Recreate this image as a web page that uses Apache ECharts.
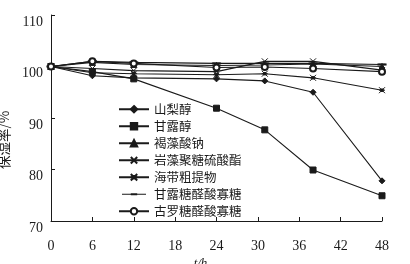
<!DOCTYPE html>
<html>
<head>
<meta charset="utf-8">
<script src="https://cdn.jsdelivr.net/npm/echarts@6/dist/echarts.min.js"></script>
<style>html,body{margin:0;padding:0;background:#fff}#c{width:410px;height:264px}</style>
</head>
<body>
<div id="c"></div>
<script>
var times = [0, 6, 12, 24, 31, 38, 48];
var seriesNames = ['山梨醇', '甘露醇', '褐藻酸钠', '岩藻聚糖硫酸酯', '海带粗提物', '甘露糖醛酸寡糖', '古罗糖醛酸寡糖'];
var sorbitol = [100, 98.2, 97.8, 97.6, 97.2, 95.0, 77.8];
var mannitol = [100, 99.0, 97.6, 91.9, 87.7, 79.9, 74.9];
var sodiumAlginate = [100, 100.8, 100.4, 100.2, 100.3, 100.5, 100.0];
var fucoidan = [100, 99.6, 99.2, 99.0, 101.0, 101.0, 99.3];
var kelpExtract = [100, 98.8, 98.6, 98.4, 98.6, 97.8, 95.4];
var mannuronicOligo = [100, 101.0, 100.8, 100.6, 100.6, 100.6, 100.4];
var guluronicOligo = [100, 101.0, 100.6, 99.8, 99.9, 99.6, 99.0];
var yTicks = [70, 80, 90, 100, 110];
var xTicks = [0, 6, 12, 18, 24, 30, 36, 42, 48];

var values = [sorbitol, mannitol, sodiumAlginate, fucoidan, kelpExtract, mannuronicOligo, guluronicOligo];
var symbols = ['diamond', 'rect', 'triangle',
  'path://M0,0L10,10M10,0L0,10',
  'path://M0,0L10,10M10,0L0,10M0,5L10,5M3,3L7,3L7,7L3,7Z',
  'rect', 'emptyCircle'];
var sizes = [6, 6, 6, 6, 6, [7, 1.5], 6];

function pair(arr) { return times.map(function (t, i) { return [t, arr[i]]; }); }

var series = values.map(function (v, i) {
  return {
    name: seriesNames[i],
    type: 'line',
    data: pair(v),
    symbol: symbols[i],
    symbolSize: sizes[i],
    lineStyle: { color: '#1a1a1a', width: 1.1 },
    itemStyle: { color: '#1a1a1a', borderColor: '#1a1a1a', borderWidth: 1 },
    emphasis: { disabled: true },
    animation: false
  };
});

var legendData = seriesNames.map(function (n, i) {
  if (i === 5) {
    return { name: n,
      icon: 'path://M15,0L15.01,0L15.01,0.01Z M0,4.4L30,4.4L30,5.6L0,5.6Z M11,3.9L19,3.9L19,6.1L11,6.1Z M15,10L15.01,10L15.01,9.99Z',
      itemStyle: { color: '#1a1a1a', borderWidth: 0 } };
  }
  return { name: n };
});

var chart = echarts.init(document.getElementById('c'));
chart.setOption({
  animation: false,
  backgroundColor: '#fff',
  grid: { left: 51, right: 28, top: 15, bottom: 43, containLabel: false, outerBoundsMode: 'none' },
  legend: {
    orient: 'vertical',
    left: 113,
    top: 98,
    itemWidth: 30,
    itemHeight: 8,
    itemGap: 4.5,
    data: legendData,
    textStyle: { fontFamily: 'Noto Sans CJK SC', fontSize: 12.5, color: '#1a1a1a' },
    selectedMode: false
  },
  xAxis: {
    type: 'value',
    min: 0, max: 48, interval: 6,
    name: 't/h',
    nameLocation: 'middle',
    nameGap: 36,
    nameMoveOverlap: false,
    nameTextStyle: { fontFamily: 'Liberation Serif', fontSize: 13, color: '#1a1a1a', fontStyle: 'italic', padding: [0, 32, 0, 0] },
    axisLine: { lineStyle: { color: '#1a1a1a', width: 1 } },
    axisTick: { inside: true, length: 4, lineStyle: { color: '#1a1a1a' } },
    axisLabel: { fontFamily: 'Liberation Serif', fontSize: 14, color: '#1a1a1a', margin: 18,
      formatter: function (v) { return xTicks.indexOf(v) >= 0 ? String(v) : ''; } },
    splitLine: { show: false }
  },
  yAxis: {
    type: 'value',
    min: 70, max: 110, interval: 10,
    name: '保湿率/%',
    nameLocation: 'middle',
    nameGap: 40,
    nameRotate: 90,
    nameTextStyle: { fontFamily: 'Noto Sans CJK SC', fontSize: 13.5, color: '#1a1a1a', padding: [0, 44, 0, 0] },
    axisLine: { show: true, lineStyle: { color: '#1a1a1a', width: 1 } },
    axisTick: { show: true, inside: true, length: 4, lineStyle: { color: '#1a1a1a' } },
    axisLabel: { fontFamily: 'Liberation Serif', fontSize: 14, color: '#1a1a1a', margin: 8, lineHeight: 14,
      formatter: function (v) { return yTicks.indexOf(v) >= 0 ? '\n' + v : ''; } },
    splitLine: { show: false }
  },
  series: series
});
</script>
</body>
</html>
